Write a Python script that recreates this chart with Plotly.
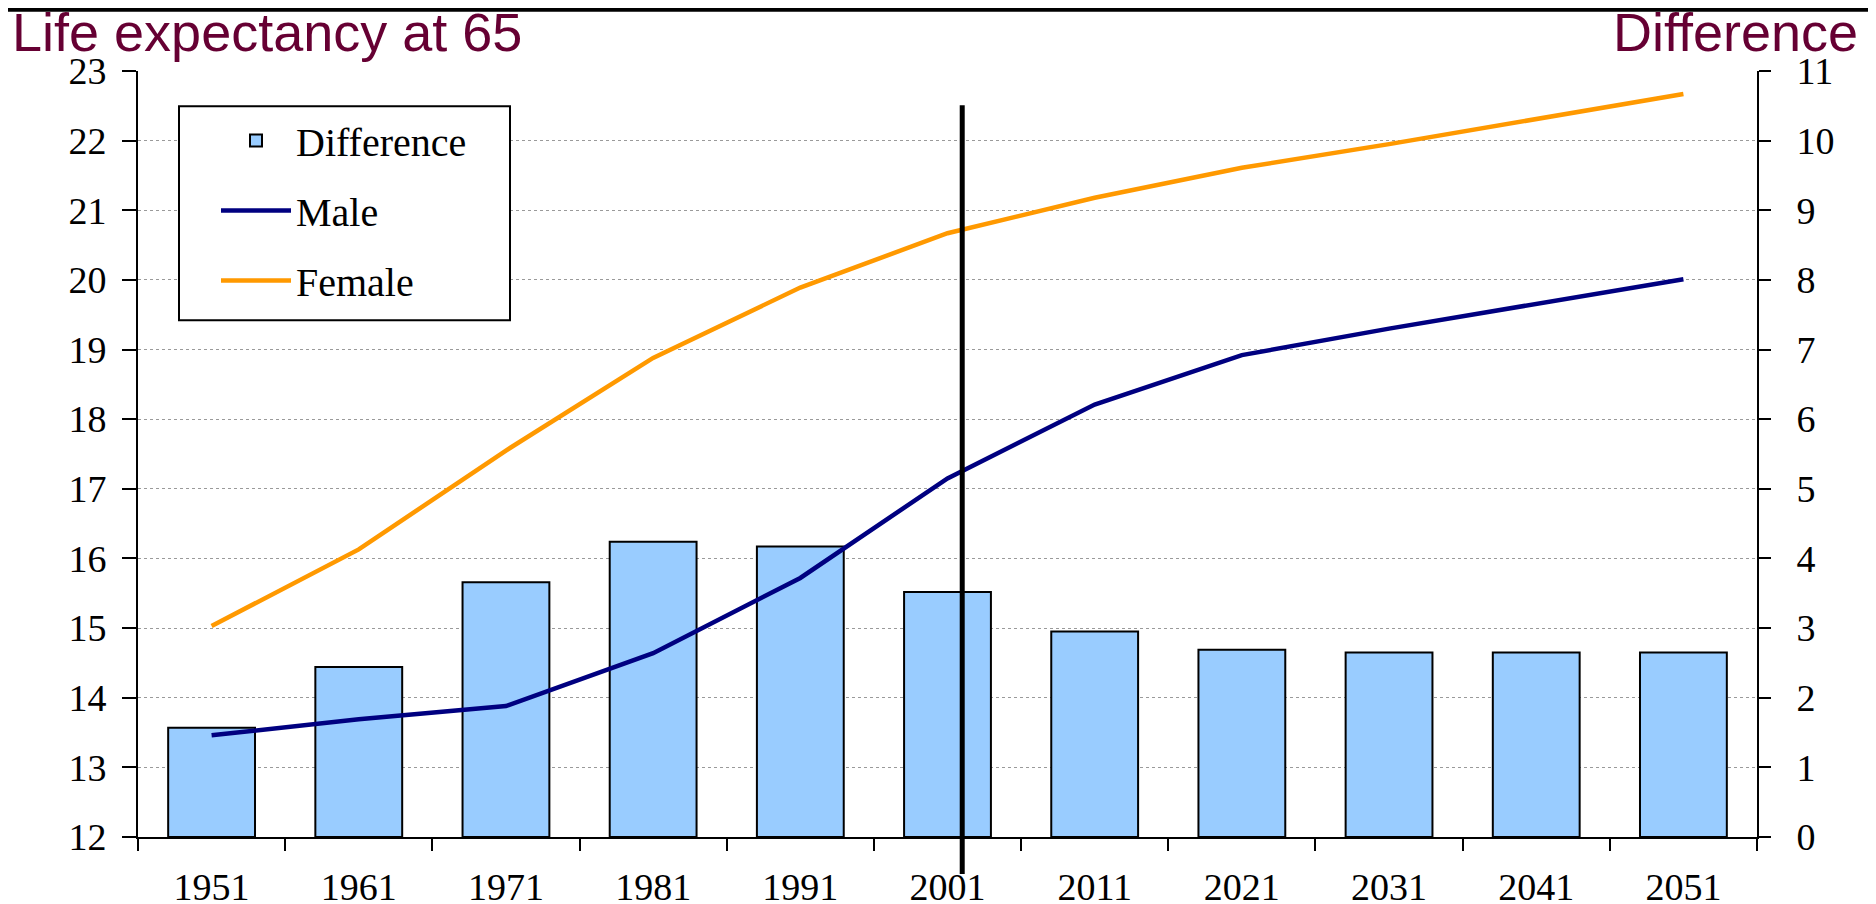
import plotly.graph_objects as go

years = ["1951", "1961", "1971", "1981", "1991", "2001", "2011", "2021", "2031", "2041", "2051"]
male = [13.46, 13.69, 13.88, 14.64, 15.72, 17.15, 18.21, 18.92, 19.30, 19.66, 20.01]
female = [15.03, 16.13, 17.55, 18.88, 19.89, 20.67, 21.18, 21.61, 21.95, 22.31, 22.67]
difference = [1.57, 2.44, 3.66, 4.24, 4.17, 3.52, 2.95, 2.69, 2.65, 2.65, 2.65]
left_ticks = list(range(12, 24))
right_ticks = list(range(0, 12))

W, H = 1876, 904
ML, MR, MT, MB = 130, 127, 62.7, 75
PW = W - ML - MR
PH = H - MT - MB

def px_x(x):
    return (x - ML) / PW

def px_y(y):
    return (H - MB - y) / PH

SERIF = "Liberation Serif, Times New Roman, serif"
TICKFONT = dict(family=SERIF, size=38, color="black")

fig = go.Figure()
fig.add_trace(go.Bar(
    x=years, y=difference, name="Difference", yaxis="y",
    marker=dict(color="#99CCFF", line=dict(color="black", width=2)),
    legendgroup="a",
))
fig.add_trace(go.Scatter(
    x=years, y=male, name="Male", mode="lines", yaxis="y2",
    line=dict(color="#000080", width=4.5), legendgroup="b",
))
fig.add_trace(go.Scatter(
    x=years, y=female, name="Female", mode="lines", yaxis="y2",
    line=dict(color="#FF9900", width=4.5), legendgroup="c",
))

fig.update_layout(
    width=W, height=H,
    margin=dict(l=ML, r=MR, t=MT, b=MB, autoexpand=False),
    paper_bgcolor="white", plot_bgcolor="white",
    bargap=0.41,
    showlegend=True,
    legend=dict(
        x=208 / W, y=1 - 100 / H, xref="container", yref="container",
        xanchor="left", yanchor="top",
        borderwidth=0, bgcolor="rgba(0,0,0,0)",
        font=dict(family=SERIF, size=40, color="black"),
        traceorder="grouped", tracegroupgap=15, itemwidth=70,
    ),
    xaxis=dict(
        type="category", showline=True, linecolor="black", linewidth=2,
        ticks="outside", tickson="boundaries", ticklen=12, tickwidth=2, tickcolor="black",
        tickfont=TICKFONT, showgrid=False, ticklabelstandoff=15,
    ),
    yaxis=dict(
        range=[0, 11], tickvals=right_ticks, side="right",
        showline=True, linecolor="black", linewidth=2,
        ticks="outside", ticklen=12, tickwidth=2, tickcolor="black",
        tickfont=TICKFONT, showgrid=True, gridcolor="#9a9a9a", gridwidth=1,
        griddash="dot", zeroline=False, ticklabelstandoff=18,
    ),
    yaxis2=dict(
        range=[12, 23], tickvals=left_ticks, overlaying="y", side="left",
        showline=True, linecolor="black", linewidth=2,
        ticks="outside", ticklen=14, tickwidth=2, tickcolor="black",
        tickfont=TICKFONT, showgrid=False, zeroline=False, ticklabelstandoff=8,
    ),
    annotations=[
        dict(text="Life expectancy at 65", xref="paper", yref="paper",
             x=px_x(2), y=px_y(24), xanchor="left", yanchor="middle", showarrow=False,
             font=dict(family="Liberation Sans, Arial, sans-serif", size=54, color="#660033")),
        dict(text="Difference", xref="paper", yref="paper",
             x=px_x(1852), y=px_y(24), xanchor="right", yanchor="middle", showarrow=False,
             font=dict(family="Liberation Sans, Arial, sans-serif", size=54, color="#660033")),
    ],
    shapes=[
        dict(type="rect", xref="paper", yref="paper",
             x0=px_x(171), x1=px_x(502), y0=px_y(312), y1=px_y(98),
             line=dict(color="black", width=2), fillcolor="white", layer="above"),
        dict(type="line", xref="x", yref="paper", x0=5.10, x1=5.10,
             y0=px_y(866), y1=px_y(97), line=dict(color="black", width=5), layer="above"),
        dict(type="line", xref="paper", yref="paper", x0=px_x(0), x1=px_x(W),
             y0=px_y(1.5), y1=px_y(1.5), line=dict(color="black", width=4)),
    ],
)

fig.write_html("out.html")
